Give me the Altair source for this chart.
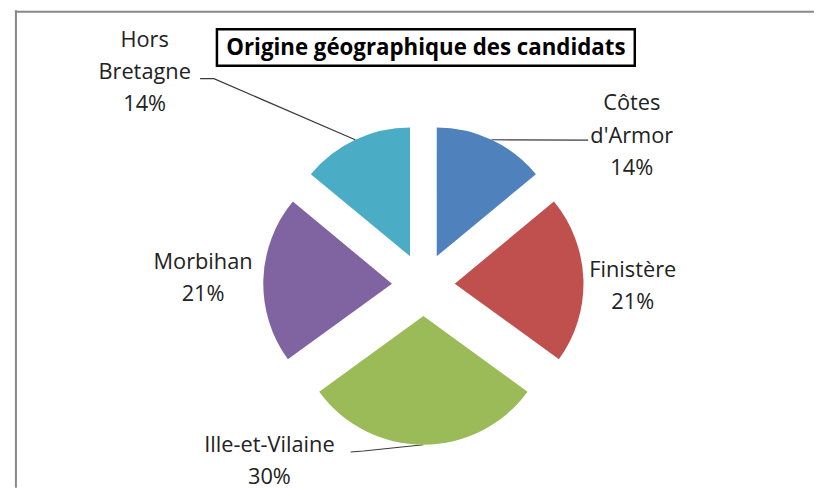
import math
import altair as alt
import pandas as pd

# ---------------- data ----------------
CATEGORIES = ["Côtes d'Armor", "Finistère", "Ille-et-Vilaine", "Morbihan", "Hors Bretagne"]
PERCENTS = [14, 21, 30, 21, 14]
LABEL_LINES = [["Côtes", "d'Armor"], ["Finistère"], ["Ille-et-Vilaine"], ["Morbihan"], ["Hors", "Bretagne"]]
TITLE = "Origine géographique des candidats"

# ---------------- style / layout ----------------
COLORS = ["#4F81BD", "#C0504D", "#9BBB59", "#8064A2", "#4BACC6"]
FONT = "Open Sans"
W, H = 814, 482
DX = 4                     # global horizontal shift
CX, CY = 415.5 + DX, 277.0  # pie centre (view pixels)
R = 130                    # pie radius
EXPLODE = 31.7             # radial offset of each slice
LINE_H = 32.5
# label anchor (first line centre) in view pixels
LABEL_POS = [(626, 94), (627, 262), (260, 439), (193, 254.5), (134, 29.5)]
# leader line points on the label side (view pixels)
LEADERS = {0: [(582, 131)], 2: [(342, 446), (355, 445)], 4: [(190, 69), (204, 69)]}

total = sum(PERCENTS)
slices = pd.DataFrame({"order": range(len(CATEGORIES)), "category": CATEGORIES, "value": PERCENTS})

labels = pd.DataFrame({
    "category": CATEGORIES,
    "text": ["\n".join(LABEL_LINES[i] + [f"{PERCENTS[i]}%"]) for i in range(len(CATEGORIES))],
    "lx": [p[0] + DX for p in LABEL_POS],
    "ly": [p[1] for p in LABEL_POS],
})

rows = []
cum = 0
mids = []
for v in PERCENTS:
    mids.append(2 * math.pi * (cum + v / 2) / total)
    cum += v
for i, pts in LEADERS.items():
    k = 0
    for (x, y) in pts:
        rows.append({"cat": CATEGORIES[i], "k": k, "x": x + DX, "y": y})
        k += 1
    m = mids[i]
    rows.append({"cat": CATEGORIES[i], "k": k,
                 "x": CX + (EXPLODE + R) * math.sin(m),
                 "y": CY - (EXPLODE + R) * math.cos(m)})
leaders = pd.DataFrame(rows)

# ---------------- chart ----------------
pie = (
    alt.Chart(slices)
    .transform_window(cum="sum(value)", sort=[alt.SortField("order")], frame=[None, 0])
    .transform_joinaggregate(total="sum(value)")
    .transform_calculate(t0="2*PI*(datum.cum-datum.value)/datum.total")
    .transform_calculate(t1="2*PI*datum.cum/datum.total")
    .transform_calculate(mid="(datum.t0+datum.t1)/2")
    .transform_calculate(px=f"{CX}+{EXPLODE}*sin(datum.mid)")
    .transform_calculate(py=f"{CY}-{EXPLODE}*cos(datum.mid)")
    .mark_arc(radius=R)
    .encode(
        x=alt.X("px:Q", scale=None, axis=None),
        y=alt.Y("py:Q", scale=None, axis=None),
        theta=alt.Theta("t0:Q", scale=None),
        theta2="t1:Q",
        color=alt.Color("category:N", scale=alt.Scale(domain=CATEGORIES, range=COLORS), legend=None),
    )
)

lines = (
    alt.Chart(leaders)
    .mark_line(color="#3a3a3a", strokeWidth=1.2)
    .encode(
        x=alt.X("x:Q", scale=None, axis=None),
        y=alt.Y("y:Q", scale=None, axis=None),
        detail="cat:N",
        order="k:Q",
    )
)

text = (
    alt.Chart(labels)
    .mark_text(font=FONT, fontSize=22, color="#222222", align="center", baseline="middle",
               lineBreak="\n", lineHeight=LINE_H)
    .encode(
        x=alt.X("lx:Q", scale=None, axis=None),
        y=alt.Y("ly:Q", scale=None, axis=None),
        text="text:N",
    )
)

title_box = alt.Chart(pd.DataFrame({"t": [TITLE]})).mark_rect(
    fill="white", stroke="black", strokeWidth=2.5
).encode(x=alt.value(207 + DX), x2=alt.value(629 + DX), y=alt.value(19), y2=alt.value(56))

title_text = alt.Chart(pd.DataFrame({"t": [TITLE]})).mark_text(
    font=FONT, fontSize=22.5, fontWeight="bold", color="black", align="center", baseline="middle"
).encode(x=alt.value(418 + DX), y=alt.value(38), text="t:N")

border_left = alt.Chart(pd.DataFrame({"t": [0]})).mark_rule(color="#888888", strokeWidth=2).encode(
    x=alt.value(4 + DX), y=alt.value(0), y2=alt.value(H)
)
border_top = alt.Chart(pd.DataFrame({"t": [0]})).mark_rule(color="#888888", strokeWidth=2).encode(
    x=alt.value(3 + DX), x2=alt.value(W), y=alt.value(1.5)
)

chart = (
    alt.layer(border_left, border_top, lines, pie, text, title_box, title_text)
    .properties(width=W, height=H, padding=0, autosize=alt.AutoSizeParams(type="none"))
    .configure_view(stroke=None)
)

chart.save("out.html", embed_options={"renderer": "svg", "actions": False})
